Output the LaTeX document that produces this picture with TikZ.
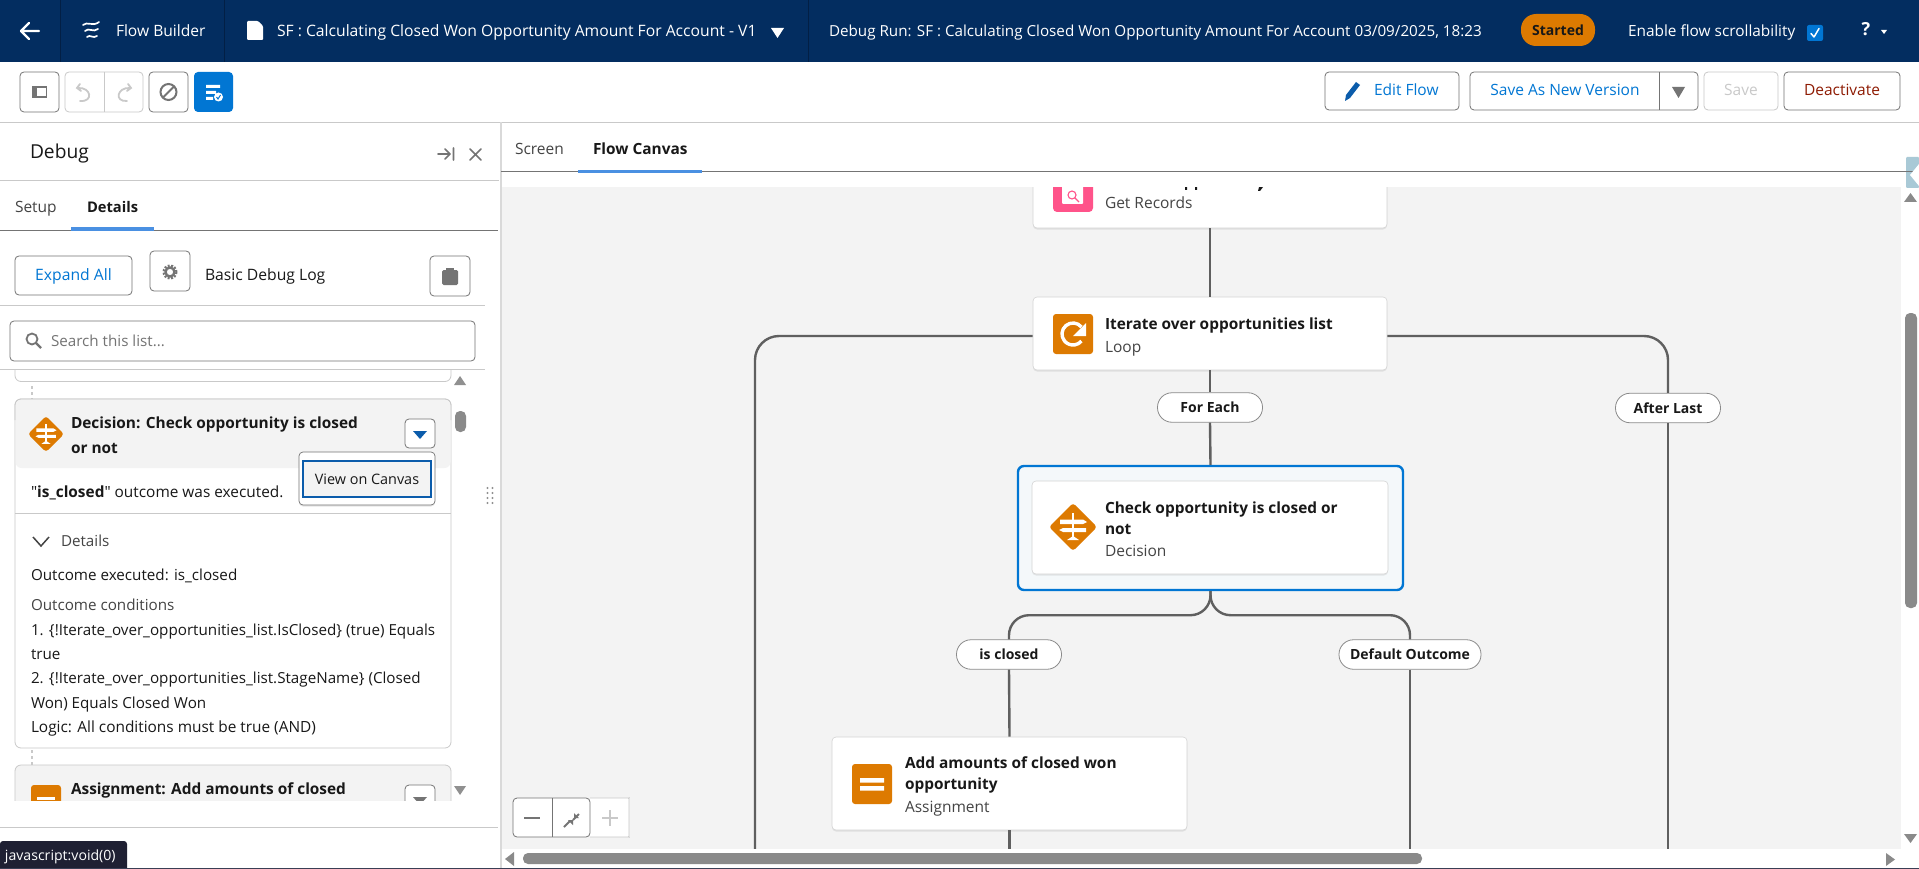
\documentclass[tikz,border=0pt]{standalone}
\usepackage{fontspec}
\setmainfont{Open Sans}[Ligatures=TeXOff]
\usetikzlibrary{shadows,calc}
\definecolor{hdr}{HTML}{032D60}
\definecolor{hdrsep}{HTML}{021F45}
\definecolor{sfblue}{HTML}{0176D3}
\definecolor{orng}{HTML}{DD7A01}
\definecolor{pinkc}{HTML}{FF538A}
\definecolor{canv}{HTML}{F3F3F3}
\definecolor{conn}{HTML}{5F5F5F}
\definecolor{bord}{HTML}{747474}
\definecolor{lite}{HTML}{C9C9C9}
\definecolor{ink}{HTML}{181818}
\definecolor{sub}{HTML}{444444}
\definecolor{thumb}{HTML}{8A8A8A}
\definecolor{deact}{HTML}{8E1B03}
\definecolor{focus}{HTML}{0B5CAB}
\definecolor{tabblue}{HTML}{4A90E2}
\definecolor{tabbox}{HTML}{A9C9D6}
\definecolor{tipbg}{HTML}{1F2033}
\definecolor{botline}{HTML}{3A3F55}
\newcommand\fs[1]{\fontsize{#1}{#1}\selectfont}
\newcommand\T[5][]{\node[txt,#1] (#2) at (#3,#4) {#5};}
\newcommand\DiaIcon[3]{\begin{scope}[shift={(#1,#2)},scale=#3]
  \fill[orng,rounded corners=3pt] (0,-24)--(24,0)--(0,24)--(-24,0)--cycle;
  \fill[white] (-1.2,-14) rectangle (1.2,13);
  \fill[white] (-13,-7.5) -- (10,-7.5) -- (14,-5) -- (10,-3) -- (-13,-3) -- cycle;
  \fill[white] (-10,1) -- (13,1) -- (13,5) -- (-10,5) -- (-14,3) -- cycle;
  \fill[white] (-6,13) -- (0,9) -- (6,13) -- cycle;
\end{scope}}
\tikzset{
  x=1pt,y=-1pt,
  txt/.style={anchor=west,inner sep=0pt,outer sep=0pt,text height=13pt,text depth=3pt,text=ink,font=\fs{15.5}},
  bold/.style={font=\fs{15.4}\bfseries},
  dtl/.style={font=\fs{15.2}},
  ctxt/.style={txt,anchor=center},
  btn/.style={draw=bord,line width=.8pt,fill=white,rounded corners=4pt},
  litebtn/.style={draw=lite,line width=.8pt,fill=white,rounded corners=4pt},
  card/.style={draw=lite!80,line width=.6pt,fill=white,rounded corners=4pt,inner sep=0pt,drop shadow={opacity=.16,shadow xshift=0pt,shadow yshift=-1.5pt}},
  pill/.style={draw=thumb,line width=.8pt,fill=white,rounded corners=14.5pt,inner sep=0pt,minimum height=29.5pt,font=\fs{14}\bfseries,text=ink},
  conn/.style={draw=conn,line width=2.4pt},
  rule/.style={draw=lite,line width=1pt},
  wline/.style={draw=white,line width=1.8pt,line cap=round,line join=round},
  gline/.style={draw=bord,line width=1.6pt,line cap=round,line join=round},
}
\begin{document}
\begin{tikzpicture}
\useasboundingbox (0,0) rectangle (1919,869);
\fill[white] (0,0) rectangle (1919,869);
%---- header
\fill[hdr] (0,0) rectangle (1919,62);
\draw[hdrsep,line width=.8pt] (60.5,0)--(60.5,62) (224,0)--(224,62) (808,0)--(808,62);
\draw[wline,line width=2.2pt] (21,31)--(39,31) (29,23)--(21,31)--(29,39);
\draw[wline,line width=1.7pt] (83,25) .. controls (87,21) and (93,27) .. (99,22);
\draw[wline,line width=1.7pt] (85,31) .. controls (89,27) and (93,33) .. (98,29);
\draw[wline,line width=1.7pt] (87,37) .. controls (90,34) and (93,39) .. (97,36);
\T[text=white,font=\fs{15.6}]{tbuilder}{116}{31.5}{Flow Builder}
\fill[white,rounded corners=1pt] (247,21)--(258,21)--(263,26)--(263,40)--(247,40)--cycle;
\T[text=white,font=\fs{15.7}]{ttitle}{277}{31.5}{SF : Calculating Closed Won Opportunity Amount For Account - V1}
\fill[white] (771,28)--(784,28)--(777.5,38)--cycle;
\T[text=white,font=\fs{15.2}]{tdebug}{829}{31.5}{Debug Run: SF : Calculating Closed Won Opportunity Amount For Account 03/09/2025, 18:23}
\node[fill=orng,rounded corners=15pt,minimum width=74pt,minimum height=32pt,inner sep=0pt,font=\fs{14}\bfseries,text=ink] (started) at (1558,30) {Started};
\T[text=white,font=\fs{15.4}]{tenable}{1628}{31.5}{Enable flow scrollability}
\node[fill=sfblue,rounded corners=2pt,minimum width=16pt,minimum height=16pt,inner sep=0pt] (chk) at (1815,33) {};
\draw[wline,line width=1.5pt] (1811,33.5)--(1814,37)--(1819,28.5);
\T[ctxt,text=white,font=\fs{18}\bfseries]{thelp}{1866}{31}{?}
\fill[white] (1881,30)--(1887,30)--(1884,34)--cycle;
%---- toolbar
\draw[btn] (20,72) rectangle (59,112);
\fill[bord] (32,86) rectangle (47,98);
\fill[white] (37,88) rectangle (45.5,96.5);
\draw[litebtn] (65,72) rectangle (143,112);
\draw[lite,line width=.8pt] (104,72)--(104,112);
\draw[lite,line width=1.8pt,line cap=round] (80,84)--(77,88)--(81,91) (78,88) .. controls (91,87) and (94,102) .. (80,101);
\draw[lite,line width=1.8pt,line cap=round] (128,84)--(131,88)--(127,91) (130,88) .. controls (117,87) and (114,102) .. (127,101);
\draw[btn] (149,72) rectangle (188,112);
\draw[bord,line width=2pt] (168.5,92) circle[radius=8pt];
\draw[bord,line width=2pt] (162.5,98)--(174.5,86);
\fill[sfblue,rounded corners=4pt] (194,72) rectangle (233,112);
\fill[white] (206,85) rectangle (220,88) (206,91) rectangle (216,94) (206,97) rectangle (213,100);
\fill[white] (218.5,97) circle[radius=4.5pt];
\draw[sfblue,line width=1pt] (216.5,97)--(218,99)--(220.5,95);
\draw[btn] (1325,72) rectangle (1459,110);
\fill[focus] (1346,95)--(1356,82)--(1360,85)--(1350,98)--(1345,101)--cycle;
\T[text=sfblue]{tedit}{1374}{91}{Edit Flow}
\draw[btn] (1470,72) rectangle (1698,110);
\draw[bord,line width=.8pt] (1659,72)--(1659,110);
\T[ctxt,text=sfblue]{tsave}{1565}{91}{Save As New Version}
\fill[bord] (1672,87)--(1685,87)--(1678.5,98)--cycle;
\draw[litebtn] (1704,72) rectangle (1778,110);
\T[ctxt,text=lite]{tsv}{1741}{91}{Save}
\draw[btn] (1784,72) rectangle (1900,110);
\T[ctxt,text=deact]{tdeact}{1842}{91}{Deactivate}
\draw[rule] (0,122.5)--(1919,122.5);
%---- canvas
\fill[canv] (501,187) rectangle (1901,849);
\fill[lite!70] (500,122) rectangle (501.5,869);
%---- canvas nodes
\node[card,minimum width=354pt,minimum height=58pt] (getrec) at (1210,199) {};
\coordinate (lb) at (755,849);
\coordinate (rb) at (1668,849);
\coordinate (bb) at (1009.5,849);
\coordinate (db) at (1410,849);
\node[card,minimum width=354pt,minimum height=73pt] (loop) at (1210,333.5) {};
\node[draw=sfblue,line width=2.4pt,fill=canv!90!sfblue!30,rounded corners=6pt,inner sep=0pt,minimum width=385pt,minimum height=124pt] (hl) at (1210.5,528) {};
\node[pill,minimum width=105pt] (foreach) at (1210,407.5) {For Each};
\node[pill,minimum width=105pt] (after) at (1668,408) {After Last};
\node[pill,minimum width=105pt] (isclosed) at (1009,654.5) {is closed};
\node[pill,minimum width=142pt] (default) at (1410,654.5) {Default Outcome};
\node[card,minimum width=355pt,minimum height=93pt] (assign) at (1009.5,783.5) {};
\node[card,minimum width=356pt,minimum height=93pt] (dec) at (1210,527.5) {};
\fill[pinkc,rounded corners=4pt] (1053,175) rectangle (1093,212);
\fill[white,rounded corners=1pt] (1062,175) rectangle (1083,204);
\draw[pinkc,line width=1.1pt] (1072,195) circle[radius=4pt] (1075,198)--(1079,202);
\T[text=sub]{tgr}{1105}{204}{Get Records}
\fill[ink] (1185,187) rectangle (1187,190) (1195,187) rectangle (1197,190);
\fill[ink] (1259,187)--(1263,187)--(1260,191)--(1258,191)--cycle;
\fill[orng,rounded corners=3pt] (1053,314) rectangle (1093,354);
\draw[white,line width=3.4pt] ($(1073,334)+(40:11pt)$) arc[start angle=40,end angle=320,radius=11pt];
\fill[white] (1086,323) -- (1086,336) -- (1073,336) -- cycle;
\T[bold]{tloop}{1105}{324}{Iterate over opportunities list}
\T[text=sub]{tloopb}{1105}{347}{Loop}
\DiaIcon{1073}{527}{1}
\T[bold]{tdec1}{1105}{508}{Check opportunity is closed or}
\T[bold]{tdec2}{1105}{529}{not}
\T[text=sub]{tdec3}{1105}{551}{Decision}
\fill[orng,rounded corners=3pt] (852,764) rectangle (892,804);
\fill[white] (860,778) rectangle (884,782.5) (860,786) rectangle (884,790.5);
\T[bold]{tas1}{905}{763}{Add amounts of closed won}
\T[bold]{tas2}{905}{784}{opportunity}
\T[text=sub]{tas3}{905}{807}{Assignment}
%---- connectors
\draw[conn] (getrec.south)--(loop.north);
\draw[conn] (loop.south)--(foreach.north);
\draw[conn] (foreach.south)--(hl.north);
\draw[conn,rounded corners=24pt] ($(loop.west)+(0,2.5)$)-|(lb);
\draw[conn,rounded corners=24pt] ($(loop.east)+(0,2.5)$)-|(after.north);
\draw[conn] (after.south)--(rb);
\draw[conn,rounded corners=20pt] (hl.south)--++(0,24)-|(isclosed.north);
\draw[conn,rounded corners=20pt] (hl.south)--++(0,24)-|(default.north);
\draw[conn] (isclosed.south)--(assign.north);
\draw[conn] (assign.south)--(bb);
\draw[conn] (default.south)--(db);
%---- top strip and tabs
\fill[white] (501.5,123) rectangle (1901,187);
\T[text=sub]{tscreen}{515}{150}{Screen}
\T[bold]{tcanvas}{593}{150}{Flow Canvas}
\draw[bord,line width=1pt] (501,171.5)--(1919,171.5);
\fill[tabblue] (578,170) rectangle (702,173);
%---- right bar
\fill[white] (1901,172) rectangle (1919,849);
\fill[white,rounded corners=4pt] (1901,152) rectangle (1925,193);
\fill[white] (1908,152) rectangle (1919,193);
\fill[tabbox,rounded corners=1pt] (1906,157) rectangle (1919,188);
\draw[bord,line width=1pt] (1901,171.5)--(1919,171.5);
\fill[white] (1919,164)--(1910,175)--(1919,186)--cycle;
\fill[thumb] (1904,202)--(1917,202)--(1910.5,193)--cycle;
\fill[thumb,rounded corners=5pt] (1905,313) rectangle (1917,608);
\fill[thumb] (1904,834)--(1917,834)--(1910.5,843)--cycle;
%---- bottom scrollbar
\fill[white] (501.5,849) rectangle (1919,869);
\fill[thumb] (514,852)--(514,866)--(505,859)--cycle;
\fill[thumb,rounded corners=5pt] (523,853) rectangle (1422,864);
\fill[thumb] (1886,853)--(1886,866)--(1895,859.5)--cycle;
%---- zoom control
\draw[litebtn] (590,798) -- (625,798) arc[start angle=90,end angle=0,radius=4pt] -- (629,833) arc[start angle=0,end angle=-90,radius=4pt] -- (590,837);
\draw[btn] (513,798) rectangle (590,837);
\draw[bord,line width=.8pt] (552,798)--(552,837);
\draw[bord,line width=1.8pt] (524,818)--(540,818);
\draw[bord,line width=1.8pt] (564,827)--(570,821) (579,814)--(573,820);
\fill[bord] (568,820)--(573,820)--(573,825)--cycle (574,813)--(574,818)--(579,818)--cycle;
\draw[lite,line width=1.8pt] (602,818)--(618,818) (610,810)--(610,826);
%---- left panel
\T[font=\fs{19.2}]{tpanel}{30}{154}{Debug}
\draw[gline,line width=1.6pt] (438,154)--(450,154) (445,149)--(450,154)--(445,159) (453.5,148)--(453.5,160);
\draw[gline,line width=1.6pt] (470,149)--(481,160) (481,149)--(470,160);
\draw[rule] (0,180.5)--(499,180.5);
\T[text=sub]{tsetup}{15}{208}{Setup}
\T[font=\fs{14.7}\bfseries]{tdetails}{87}{208}{Details}
\draw[bord,line width=1pt] (0,230.5)--(498,230.5);
\fill[tabblue] (71,227) rectangle (154,231);
\draw[btn] (15,256) rectangle (132,295);
\T[ctxt,text=sfblue,font=\fs{15.7}]{texpand}{73.5}{275.5}{Expand All}
\draw[btn] (150,251) rectangle (190,291);
\draw[bord,line width=2.4pt] (170,272) circle[radius=4.5pt];
\draw[bord,line width=2pt,dash pattern=on 2pt off 1.5pt] (170,272) circle[radius=6.5pt];
\T[font=\fs{15.7}]{tbasic}{205}{275}{Basic Debug Log}
\draw[btn] (430,256) rectangle (470,296);
\fill[bord,rounded corners=1.5pt] (442,270) rectangle (458,285);
\fill[bord] (446,268) rectangle (454,272);
\draw[rule] (0,305.5)--(485,305.5);
\draw[btn] (10,321) rectangle (475,361);
\draw[bord,line width=1.8pt] (32,339) circle[radius=5.5pt];
\draw[bord,line width=2.2pt] (36,343)--(41,348);
\T[text=bord,dtl]{tsearch}{51}{341}{Search this list...}
\draw[rule] (0,369.5)--(485,369.5);
%-- previous card
\draw[lite,line width=.8pt,rounded corners=6pt] (15,370)--(15,381.5)--(451,381.5)--(451,370);
\draw[lite,line width=1.2pt,dashed] (32,386)--(32,399);
\fill[bord!80] (454,385)--(466,385)--(460,376)--cycle;
\fill[thumb,rounded corners=5pt] (455,411) rectangle (466,432);
%-- decision debug card
\path[draw=lite,line width=.8pt,fill=white,rounded corners=6pt] (15,399) rectangle (451,748);
\path[fill=canv,rounded corners=6pt] (15.5,399.5)--(15.5,468)--(450.5,468)--(450.5,399.5)--cycle;
\draw[lite,line width=.8pt,rounded corners=6pt] (15,420)--(15,399)--(451,399)--(451,420);
\DiaIcon{46}{434}{.75}
\T[bold]{tdbg1}{71}{423}{Decision: Check opportunity is closed}
\T[bold]{tdbg2}{71}{448}{or not}
\draw[btn,fill=white] (405,419) rectangle (435,448);
\fill[focus] (413,431)--(427,431)--(420,439)--cycle;
\node[txt,font=\fs{15.4}] (tout) at (31,492) {"\textbf{is\_closed}" outcome was executed.};
\draw[lite,line width=.8pt] (15,513.5)--(451,513.5);
\draw[sub,line width=1.5pt] (33,537)--(41,546)--(49,537);
\T[text=sub,dtl]{tdet}{61}{541}{Details}
\node[draw=bord,line width=.7pt,fill=white,rounded corners=4pt,minimum width=136pt,minimum height=53pt,drop shadow={opacity=.2,shadow xshift=0pt,shadow yshift=-1.5pt}] (menu) at (367,478.5) {};
\node[draw=focus,line width=2pt,fill=canv,inner sep=0pt,minimum width=128pt,minimum height=36pt,font=\fs{14.4},text=ink] (viewc) at (367,479) {View on Canvas};
\T[dtl]{td1}{31}{575}{Outcome executed: is\_closed}
\T[text=sub,dtl]{td2}{31}{605}{Outcome conditions}
\T[dtl]{td3}{31}{630}{1. \{!Iterate\_over\_opportunities\_list.IsClosed\} (true) Equals}
\T[dtl]{td4}{31}{654}{true}
\T[dtl]{td5}{31}{678}{2. \{!Iterate\_over\_opportunities\_list.StageName\} (Closed}
\T[dtl]{td6}{31}{703}{Won) Equals Closed Won}
\T[font=\fs{15.4}]{td7}{31}{727}{Logic: All conditions must be true (AND)}
\draw[lite,line width=1.2pt,dashed] (32,750)--(32,765);
%-- next card, clipped
\begin{scope}
\clip (0,755) rectangle (480,800);
\path[draw=lite,line width=.8pt,fill=canv,rounded corners=6pt] (15,765) rectangle (451,830);
\fill[orng,rounded corners=3pt] (31,785) rectangle (61,815);
\fill[white] (37,797) rectangle (55,800);
\T[bold]{tnext}{71}{789}{Assignment: Add amounts of closed}
\draw[btn] (405,785) rectangle (435,815);
\fill[bord] (413,797)--(427,797)--(420,805)--cycle;
\end{scope}
\fill[bord!80] (454,786)--(466,786)--(460,795)--cycle;
\draw[rule] (0,827.5)--(498,827.5);
%-- grip
\foreach \yy in {488,493,498,503}{\fill[bord!80] (487.5,\yy) circle[radius=1.2pt] (492.5,\yy) circle[radius=1.2pt];}
%-- tooltip
\path[fill=tipbg,rounded corners=3pt] (0,841) rectangle (127,875);
\T[text=white,font=\fs{14.1}]{ttip}{5}{855}{javascript:void(0)}
\fill[botline] (0,867.5) rectangle (1919,869);
\end{tikzpicture}
\end{document}
